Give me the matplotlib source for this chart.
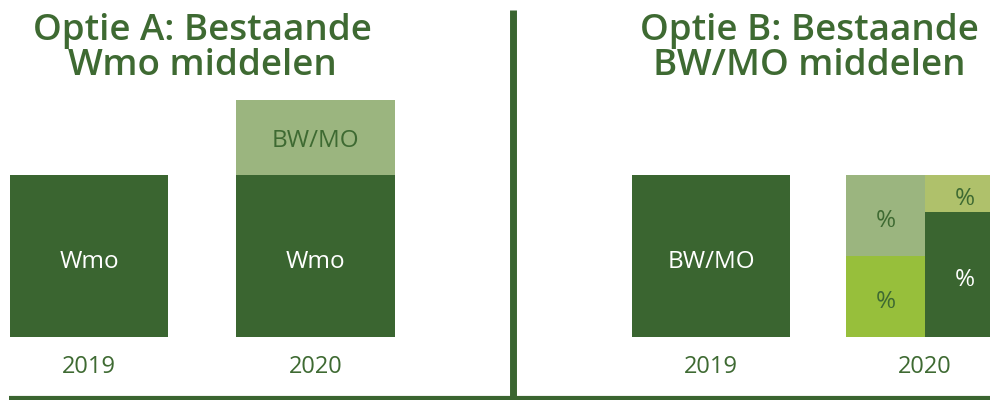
import matplotlib.pyplot as plt
from matplotlib.lines import Line2D

plt.rcParams['font.family'] = ['Open Sans', 'DejaVu Sans']

# data (height of the 2019 block = 1)
years = ["2019", "2020"]
wmo_a = [1.0, 1.0]
bwmo_a = [0.0, 0.46]
bwmo_b = [1.0]
# 2020, option B: two columns, each split in two
b2020_left = [0.5, 0.5]     # bottom, top
b2020_right = [0.77, 0.23]  # bottom, top

dark = '#3a6530'
olive = '#9bb57f'
lime = '#97bf3b'
yellowish = '#afc16b'
txt_green = '#3e6a32'

fig = plt.figure(figsize=(9.9, 4), dpi=100)
ymax = 337 / 162
axA = fig.add_axes([0, 63 / 400, 512 / 990, 337 / 400])
axB = fig.add_axes([512 / 990, 63 / 400, 478 / 990, 337 / 400])

lab = dict(fontsize=17.5, fontweight='normal', ha='center', va='center')
dy = 0.035  # text sits a little below the block centre

# --- Optie A
wA = 0.698
axA.bar([0, 1], wmo_a, width=wA, color=dark)
axA.bar([0, 1], bwmo_a, width=wA, bottom=wmo_a, color=olive)
for i in range(2):
    axA.text(i, wmo_a[i] / 2 - dy, "Wmo", color='white', **lab)
axA.text(1, wmo_a[1] + bwmo_a[1] / 2 - dy / 2, "BW/MO", color=txt_green, **lab)
axA.set_xlim(-89 / 226.5, (512 - 89) / 226.5)

# --- Optie B
wB = 0.738
axB.bar([0], bwmo_b, width=wB, color=dark)
axB.text(0, bwmo_b[0] / 2 - dy, "BW/MO", color='white', **lab)
xl = 1 - wB / 4
xr = 1 + wB / 4
axB.bar([xl], [b2020_left[0]], width=wB / 2, color=lime)
axB.bar([xl], [b2020_left[1]], width=wB / 2, bottom=b2020_left[0], color=olive)
axB.bar([xr], [b2020_right[0]], width=wB / 2, color=dark)
axB.bar([xr], [b2020_right[1]], width=wB / 2, bottom=b2020_right[0], color=yellowish)
axB.text(xl, b2020_left[0] / 2 - dy, "%", color=txt_green, **lab)
axB.text(xl, b2020_left[0] + b2020_left[1] / 2 - dy, "%", color=txt_green, **lab)
axB.text(xr, b2020_right[0] / 2 - dy, "%", color='white', **lab)
axB.text(xr, b2020_right[0] + b2020_right[1] / 2 - dy, "%", color=txt_green, **lab)
axB.set_xlim((512 - 711) / 214, (990 - 711) / 214)

for ax in (axA, axB):
    ax.set_ylim(0, ymax)
    ax.set_xticks([0, 1])
    ax.set_xticklabels(years, fontsize=17, color=txt_green)
    ax.tick_params(length=0, pad=13, left=False, labelleft=False)
    for s in ax.spines.values():
        s.set_visible(False)
    ax.patch.set_visible(False)

# titles
title = dict(ha='center', va='top', fontsize=26.5, fontweight='semibold',
             color=txt_green, linespacing=0.98)
fig.text(202 / 990, 1 - 13 / 400, "Optie A: Bestaande\nWmo middelen", **title)
fig.text(809 / 990, 1 - 13 / 400, "Optie B: Bestaande\nBW/MO middelen", **title)

# divider lines
fig.add_artist(Line2D([512.5 / 990, 512.5 / 990], [4 / 400, 1 - 10 / 400],
                      color=dark, linewidth=5, solid_capstyle='butt'))
fig.add_artist(Line2D([9 / 990, 1], [2 / 400, 2 / 400],
                      color=dark, linewidth=3, solid_capstyle='butt'))

fig.savefig("out.png", dpi=100)
